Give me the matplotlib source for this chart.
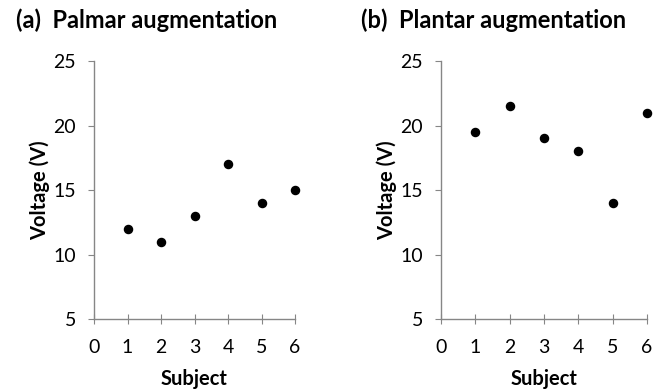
import matplotlib
matplotlib.use('Agg')
import matplotlib.pyplot as plt

subjects = [1, 2, 3, 4, 5, 6]
palmar = [12, 11, 13, 17, 14, 15]
plantar = [19.5, 21.5, 19, 18, 14, 21]
titles = ['(a)  Palmar augmentation', '(b)  Plantar augmentation']

plt.rcParams['font.family'] = ['Lato', 'DejaVu Sans']

fig = plt.figure(figsize=(6.56, 3.9), dpi=100)
ax1 = fig.add_axes([0.1433, 0.182, 0.3064, 0.6615])
ax2 = fig.add_axes([0.6723, 0.182, 0.314, 0.6615])

for ax, vals, title, tx in [(ax1, palmar, titles[0], 0.024), (ax2, plantar, titles[1], 0.55)]:
    ax.scatter(subjects, vals, s=34, color='black', zorder=3, clip_on=False)
    ax.set_xlim(0, 6)
    ax.set_ylim(5, 25)
    ax.set_xticks(range(0, 7))
    ax.set_yticks([5, 10, 15, 20, 25])
    for s in ['top', 'right']:
        ax.spines[s].set_visible(False)
    for s in ['left', 'bottom']:
        ax.spines[s].set_color('#868686')
        ax.spines[s].set_linewidth(1.0)
    ax.tick_params(axis='x', direction='inout', length=7, color='#868686', labelsize=14, pad=11)
    ax.tick_params(axis='y', direction='out', length=4, color='#868686', labelsize=14, pad=9)
    ax.set_xlabel('Subject', fontsize=14.5, fontweight='bold', labelpad=9)
    ax.set_ylabel('Voltage (V)', fontsize=14.5, fontweight='bold', labelpad=2)
    fig.text(tx, 0.948, title, fontsize=17, fontweight='bold', ha='left', va='center')

fig.savefig('out.png', dpi=100)
